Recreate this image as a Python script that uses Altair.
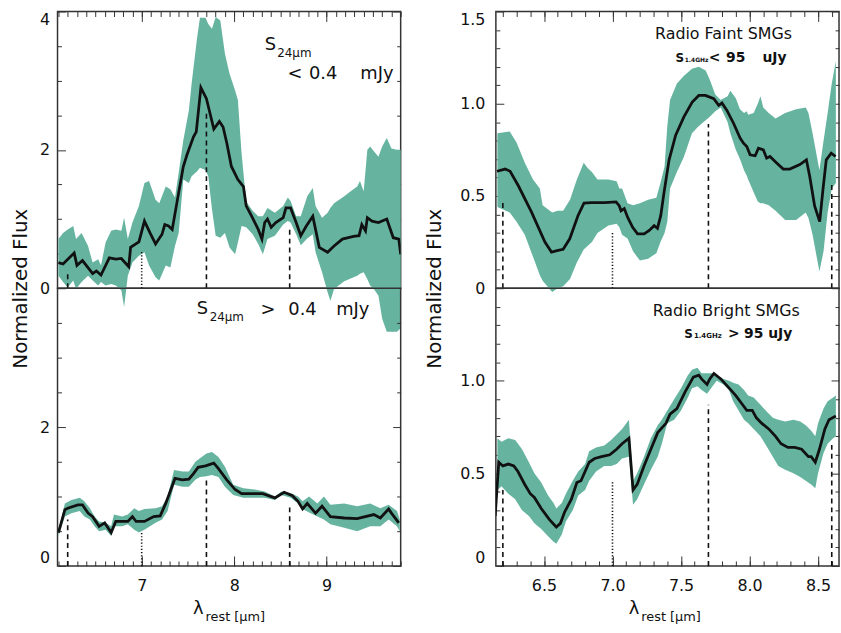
import altair as alt
import pandas as pd

FONT = "DejaVu Sans"
TEAL = "#66b4a0"
INK = "#111111"
FRAME = "#333333"

# ---------------- data ----------------
# Top-left: S24um < 0.4 mJy
TL_x = [6.10,6.15,6.27,6.30,6.36,6.47,6.51,6.56,6.65,6.72,6.78,6.86,6.88,6.97,7.03,7.09,7.15,7.22,7.25,7.29,
        7.33,7.38,7.45,7.49,7.56,7.59,7.64,7.70,7.78,7.84,7.88,7.92,7.97,8.04,8.10,8.13,8.19,8.26,8.30,8.33,
        8.36,8.40,8.45,8.53,8.56,8.61,8.67,8.72,8.78,8.85,8.88,8.92,9.01,9.08,9.17,9.29,9.35,9.38,9.42,9.44,
        9.49,9.56,9.65,9.72,9.78,9.80]
TL_y = [0.37,0.35,0.51,0.33,0.40,0.21,0.25,0.19,0.44,0.42,0.43,0.31,0.59,0.67,0.97,0.80,0.64,0.78,0.92,0.90,
        0.85,1.23,1.76,1.93,2.19,2.26,2.90,2.74,2.30,2.41,2.33,2.10,1.76,1.57,1.47,1.19,1.04,0.85,0.71,0.95,
        1.00,0.88,0.95,1.02,1.16,1.16,0.95,0.76,0.90,1.04,0.85,0.59,0.52,0.61,0.71,0.75,0.76,0.92,0.83,1.02,
        0.97,0.95,1.00,0.73,0.71,0.49]
TL_bx = [6.10,6.15,6.20,6.26,6.29,6.35,6.42,6.47,6.53,6.56,6.61,6.67,6.72,6.78,6.81,6.85,6.90,6.97,7.03,7.08,
         7.15,7.19,7.26,7.31,7.36,7.40,7.45,7.51,7.54,7.60,7.63,7.69,7.72,7.76,7.80,7.85,7.90,7.95,8.01,8.04,
         8.08,8.13,8.20,8.26,8.31,8.36,8.44,8.53,8.58,8.61,8.67,8.72,8.79,8.85,8.88,8.95,9.01,9.04,9.08,9.19,
         9.26,9.33,9.36,9.40,9.44,9.47,9.51,9.56,9.60,9.65,9.70,9.76,9.80]
TL_hi = [0.71,0.80,0.85,0.90,0.71,0.80,0.61,0.37,0.42,0.33,0.66,0.83,0.85,0.83,1.02,0.71,0.95,1.19,1.52,1.55,
         1.28,1.23,1.47,1.43,1.31,1.67,2.14,2.57,2.96,3.63,3.91,3.91,3.82,3.75,3.92,3.87,3.39,3.10,2.86,2.72,
         1.95,1.25,1.12,1.04,1.04,1.16,1.09,1.19,1.31,1.26,1.04,1.04,1.33,1.45,1.19,1.02,1.09,1.16,1.23,1.33,
         1.40,1.47,1.55,1.40,2.00,2.05,1.98,1.90,2.05,2.17,2.02,2.00,2.00]
TL_lo = [0.18,0.09,0.01,0.11,-0.01,0.09,0.18,0.11,0.04,0.09,0.04,0.06,0.04,-0.03,-0.27,0.18,0.37,0.47,0.52,0.33,
         0.16,0.11,0.33,0.30,0.61,0.80,1.57,1.52,1.62,1.69,1.74,1.71,1.62,1.14,0.76,0.73,0.80,0.59,0.49,0.66,
         0.90,0.88,0.78,0.64,0.49,0.71,0.76,0.92,0.97,0.95,0.78,0.62,0.72,0.78,0.52,0.23,-0.06,-0.18,-0.01,0.10,
         0.14,0.18,0.21,0.23,0.13,0.04,-0.01,-0.11,-0.44,-0.63,-0.63,-0.63,-0.58]

# Bottom-left: S24um > 0.4 mJy
BL_x = [6.10,6.17,6.20,6.31,6.36,6.42,6.47,6.54,6.60,6.67,6.72,6.85,6.90,6.94,7.03,7.13,7.20,7.26,7.36,7.44,
        7.51,7.56,7.61,7.69,7.78,7.83,7.92,8.01,8.08,8.15,8.31,8.44,8.54,8.63,8.69,8.74,8.79,8.88,8.95,9.04,
        9.19,9.33,9.51,9.58,9.67,9.70,9.78]
BL_y = [0.48,0.81,0.83,0.88,0.88,0.76,0.71,0.57,0.62,0.48,0.64,0.64,0.71,0.64,0.64,0.71,0.72,0.90,1.26,1.24,
        1.25,1.33,1.42,1.44,1.48,1.40,1.24,1.10,1.04,1.04,1.04,0.98,1.06,1.01,0.93,0.82,0.90,0.76,0.86,0.71,
        0.69,0.68,0.74,0.69,0.82,0.76,0.62]
BL_bx = [6.10,6.17,6.24,6.33,6.38,6.44,6.49,6.54,6.61,6.67,6.70,6.79,6.85,6.92,6.97,7.03,7.15,7.22,7.28,7.35,
         7.44,7.51,7.58,7.63,7.70,7.76,7.83,7.90,7.99,8.10,8.22,8.33,8.44,8.51,8.61,8.69,8.74,8.81,8.90,8.97,
         9.04,9.19,9.33,9.47,9.58,9.67,9.76,9.79]
BL_hi = [0.52,0.90,0.95,0.98,0.93,0.83,0.71,0.64,0.62,0.57,0.74,0.71,0.74,0.83,0.79,0.82,0.83,0.86,1.00,1.38,
         1.36,1.36,1.50,1.55,1.62,1.64,1.57,1.43,1.17,1.12,1.10,1.07,1.00,1.07,1.05,1.00,0.93,1.00,0.90,1.00,
         0.88,0.90,0.86,0.90,0.83,0.88,0.79,0.67]
BL_lo = [0.43,0.71,0.76,0.79,0.71,0.67,0.57,0.50,0.52,0.43,0.57,0.57,0.60,0.52,0.48,0.52,0.62,0.67,0.79,1.17,
         1.14,1.14,1.24,1.28,1.29,1.31,1.28,1.14,1.02,0.98,0.98,0.98,0.95,1.02,0.98,0.90,0.82,0.77,0.71,0.67,
         0.60,0.55,0.50,0.57,0.57,0.67,0.57,0.50]

# Top-right: Radio faint SMGs
TR_x = [6.157,6.217,6.253,6.314,6.410,6.507,6.555,6.603,6.640,6.688,6.748,6.792,6.845,6.942,7.026,7.050,7.062,
        7.086,7.111,7.147,7.183,7.231,7.268,7.304,7.328,7.352,7.376,7.413,7.461,7.521,7.582,7.630,7.678,7.739,
        7.775,7.799,7.835,7.884,7.932,7.956,7.980,8.004,8.041,8.065,8.101,8.125,8.149,8.198,8.246,8.294,8.367,
        8.415,8.439,8.475,8.512,8.536,8.560,8.596,8.628]
TR_y = [0.634,0.646,0.634,0.554,0.411,0.250,0.196,0.205,0.211,0.268,0.393,0.461,0.464,0.464,0.468,0.446,0.420,
        0.432,0.384,0.330,0.295,0.295,0.313,0.339,0.325,0.393,0.518,0.696,0.830,0.929,1.009,1.045,1.045,1.027,
        0.991,1.004,0.964,0.893,0.813,0.786,0.768,0.723,0.718,0.759,0.750,0.705,0.714,0.679,0.646,0.646,0.670,
        0.696,0.607,0.446,0.361,0.536,0.696,0.732,0.714]
TR_bx = [6.16,6.25,6.30,6.36,6.42,6.47,6.49,6.56,6.60,6.64,6.69,6.74,6.79,6.82,6.85,6.89,6.97,7.03,7.05,7.07,
         7.11,7.15,7.20,7.26,7.32,7.35,7.38,7.40,7.42,7.47,7.52,7.58,7.63,7.68,7.71,7.75,7.79,7.84,7.86,7.90,
         7.93,7.96,7.98,7.99,8.03,8.06,8.08,8.10,8.14,8.19,8.26,8.34,8.41,8.43,8.46,8.51,8.54,8.57,8.60,8.63]
TR_hi = [0.84,0.85,0.79,0.68,0.59,0.54,0.45,0.41,0.42,0.42,0.48,0.59,0.68,0.65,0.63,0.59,0.59,0.58,0.54,0.54,
         0.46,0.45,0.46,0.48,0.49,0.57,0.66,0.88,1.02,1.11,1.15,1.19,1.20,1.18,1.13,1.05,1.02,1.04,1.07,1.03,
         0.97,0.95,0.96,0.94,0.95,1.00,1.04,0.98,0.95,0.92,0.95,0.97,0.98,0.95,0.84,0.64,0.80,0.95,1.11,1.23]
TR_lo = [0.44,0.41,0.36,0.29,0.17,0.07,0.04,-0.02,0.00,0.01,0.05,0.14,0.21,0.23,0.25,0.30,0.34,0.35,0.33,0.29,
         0.27,0.20,0.15,0.16,0.19,0.25,0.30,0.36,0.54,0.63,0.71,0.84,0.88,0.91,0.93,0.96,0.98,0.90,0.84,0.75,
         0.70,0.64,0.61,0.59,0.52,0.47,0.46,0.46,0.45,0.42,0.37,0.37,0.41,0.38,0.29,0.09,0.20,0.41,0.54,0.57]

# Bottom-right: Radio bright SMGs
BR_x = [6.144,6.17,6.20,6.24,6.28,6.31,6.36,6.40,6.43,6.48,6.54,6.59,6.62,6.65,6.70,6.74,6.77,6.80,6.83,6.87,
        6.92,6.98,7.03,7.07,7.12,7.15,7.18,7.23,7.28,7.33,7.39,7.42,7.47,7.53,7.59,7.63,7.65,7.69,7.71,7.74,
        7.79,7.84,7.90,7.94,7.98,8.02,8.05,8.09,8.14,8.19,8.23,8.28,8.33,8.38,8.43,8.45,8.48,8.51,8.55,8.58,8.63]
BR_y = [0.27,0.56,0.54,0.55,0.54,0.51,0.44,0.39,0.37,0.31,0.25,0.21,0.23,0.29,0.36,0.45,0.46,0.51,0.56,0.58,
        0.59,0.60,0.63,0.66,0.69,0.41,0.44,0.54,0.63,0.72,0.77,0.82,0.85,0.94,1.02,1.03,1.01,0.98,1.01,1.04,
        1.01,0.97,0.92,0.88,0.84,0.84,0.80,0.77,0.74,0.70,0.66,0.64,0.64,0.63,0.59,0.59,0.56,0.63,0.74,0.79,0.81]
BR_bx = [6.16,6.19,6.24,6.29,6.34,6.39,6.43,6.48,6.53,6.57,6.59,6.63,6.66,6.71,6.75,6.80,6.83,6.88,6.94,6.99,
         7.03,7.07,7.12,7.15,7.18,7.23,7.28,7.33,7.36,7.40,7.45,7.50,7.55,7.58,7.62,7.65,7.69,7.73,7.76,7.81,
         7.85,7.88,7.92,7.96,7.99,8.03,8.08,8.13,8.17,8.21,8.26,8.32,8.37,8.41,8.45,8.48,8.50,8.54,8.57,8.61,8.63]
BR_hi = [0.69,0.67,0.69,0.68,0.63,0.56,0.50,0.45,0.38,0.34,0.31,0.34,0.39,0.46,0.51,0.55,0.62,0.64,0.65,0.68,
         0.71,0.74,0.79,0.46,0.50,0.59,0.69,0.76,0.79,0.84,0.90,0.96,1.03,1.06,1.07,1.04,1.04,1.04,1.03,1.01,
         1.00,0.99,0.98,0.95,0.92,0.91,0.87,0.83,0.80,0.79,0.78,0.79,0.78,0.76,0.73,0.70,0.77,0.85,0.89,0.91,0.92]
BR_lo = [0.41,0.43,0.39,0.36,0.30,0.27,0.23,0.20,0.16,0.13,0.12,0.17,0.24,0.30,0.38,0.41,0.46,0.51,0.54,0.54,
         0.55,0.58,0.59,0.33,0.36,0.44,0.52,0.59,0.66,0.77,0.79,0.84,0.91,0.96,0.97,0.95,0.93,0.97,1.00,0.98,
         0.95,0.89,0.84,0.79,0.77,0.74,0.70,0.64,0.59,0.54,0.52,0.50,0.48,0.46,0.44,0.42,0.50,0.61,0.66,0.69,0.70]

# feature markers: 6.2, 7.7, 8.6 (dashed) and 7.0 (dotted); heights per panel
FEAT_DASHED = [6.2, 7.7, 8.6]
FEAT_DOTTED = [7.0]
TL_dash_top = [0.25, 2.53, 0.88]; TL_dot_top = [0.53]
BL_dash_top = [0.67, 1.24, 0.88]; BL_dot_top = [0.48]
TR_dash_top = [0.48, 0.89, 0.58]; TR_dot_top = [0.31]
BR_dash_top = [0.41, 0.87, 0.66]; BR_dot_top = [0.46]

# axis ticks / labels
L_XDOM = [6.09, 9.80]; R_XDOM = [6.149, 8.653]
L_YDOM = [0, 4]; R_YDOM = [0, 1.5]
L_X_MAJOR = [7, 8, 9]
L_X_MINOR = [round(6.1 + 0.1 * i, 1) for i in range(38)]
R_X_MAJOR = [6.5, 7.0, 7.5, 8.0, 8.5]
R_X_MINOR = [round(6.2 + 0.1 * i, 1) for i in range(25)]
L_Y_MAJOR_TOP = [0, 2, 4]; L_Y_MAJOR_BOT = [0, 2]
L_Y_MINOR = [0.5, 1.0, 1.5, 2.5, 3.0, 3.5]
R_Y_MAJOR_TOP = [0, 0.5, 1.0, 1.5]; R_Y_MAJOR_BOT = [0, 0.5, 1.0]
R_Y_MINOR = [0.1, 0.2, 0.3, 0.4, 0.6, 0.7, 0.8, 0.9, 1.1, 1.2, 1.3, 1.4]

# annotation pieces (text, x, y) per panel
TL_big = [("S", 8.33, 3.52)]
TL_sub = [("24μm", 8.465, 3.40)]
TL_words = [("<", 8.657, 3.09), ("0.4", 8.961, 3.09), ("mJy", 9.543, 3.09)]
BL_big = [("S", 7.596, 3.70)]
BL_sub = [("24μm", 7.735, 3.58)]
BL_words = [(">", 8.364, 3.68), ("0.4", 8.739, 3.68), ("mJy", 9.282, 3.68)]
TR_title = [("Radio  Faint  SMGs", 7.81, 1.38)]
TR_S = [("S", 7.459, 1.25)]
TR_sub = [("1.4GHz", 7.527, 1.237)]
TR_words = [("<", 7.745, 1.25), ("95", 7.899, 1.25), ("uJy", 8.182, 1.25)]
BR_title = [("Radio  Bright  SMGs", 7.83, 1.377)]
BR_S = [("S", 7.524, 1.254)]
BR_sub = [("1.4GHz", 7.594, 1.241)]
BR_words = [(">", 7.886, 1.254), ("95", 8.03, 1.254), ("uJy", 8.224, 1.254)]
L_XTITLE_X = 7.67
R_XTITLE_X = 7.195

W = 346
H_TOP = 279
H_BOT = 280


def ax_common():
    return dict(domain=False, grid=False, tickColor=FRAME, tickWidth=1,
                labelFont=FONT, labelFontSize=16, labelColor=INK)


def x_axes(orient, majors, minors, labels, fmt=None):
    kw = ax_common()
    if fmt:
        kw["format"] = fmt
    major = alt.Axis(orient=orient, values=majors, labels=labels, tickSize=10, offset=-10,
                     labelPadding=12, title=None, **kw)
    minor = alt.Axis(orient=orient, values=minors, labels=False, tickSize=5, offset=-5,
                     title=None, **ax_common())
    return major, minor


def y_axes(majors, minors, label_expr, is_top, top_val, pad, title, title_x, title_y):
    kw = ax_common()
    extra = {}
    if is_top:
        extra["labelBaseline"] = {"condition": {"test": f"datum.value == {top_val}", "value": "top"},
                                  "value": "middle"}
    else:
        extra["labelBaseline"] = {"condition": {"test": "datum.value == 0", "value": "bottom"},
                                  "value": "middle"}
    if title:
        extra.update(title=title, titleX=title_x, titleY=title_y, titleAngle=270,
                     titleAlign="center", titleBaseline="middle", titleFont=FONT,
                     titleFontSize=20, titleFontWeight="normal", titleColor=INK)
    else:
        extra["title"] = None
    left_major = alt.Axis(orient="left", values=majors, tickSize=8, offset=-8, labelPadding=pad,
                          labelExpr=label_expr, **kw, **extra)
    left_minor = alt.Axis(orient="left", values=minors, labels=False, tickSize=4, offset=-4,
                          title=None, **ax_common())
    right_major = alt.Axis(orient="right", values=majors, labels=False, tickSize=8, offset=-8,
                           title=None, **ax_common())
    right_minor = alt.Axis(orient="right", values=minors, labels=False, tickSize=4, offset=-4,
                           title=None, **ax_common())
    return left_major, left_minor, right_major, right_minor


def text_layer(items, size, align="left", weight="normal", ypix=None):
    df = pd.DataFrame({"t": [i[0] for i in items], "x": [i[1] for i in items],
                       "y": [i[2] for i in items]})

    def build(xs, ys):
        enc = dict(x=alt.X("x:Q", scale=xs, axis=None), text="t:N")
        if ypix is not None:
            enc["y"] = alt.value(ypix)
        else:
            enc["y"] = alt.Y("y:Q", scale=ys, axis=None)
        return alt.Chart(df).mark_text(font=FONT, fontSize=size, align=align, baseline="middle",
                                       fontWeight=weight, color=INK, clip=False).encode(**enc)
    return build


def panel(H, xdom, ydom, bx, blo, bhi, lx, ly, dash_top, dot_top, xax, yax, texts):
    xs = alt.Scale(domain=xdom, nice=False, zero=False)
    ys = alt.Scale(domain=ydom, nice=False, zero=False)
    band = pd.DataFrame({"x": bx, "lo": blo, "hi": bhi})
    line = pd.DataFrame({"x": lx, "y": ly})
    dashed = pd.DataFrame({"x": FEAT_DASHED, "base": [0] * len(FEAT_DASHED), "top": dash_top})
    dotted = pd.DataFrame({"x": FEAT_DOTTED, "base": [0] * len(FEAT_DOTTED), "top": dot_top})
    xmaj, xmin = xax
    ylmaj, ylmin, yrmaj, yrmin = yax

    area = alt.Chart(band).mark_area(color=TEAL, opacity=1, clip=False).encode(
        x=alt.X("x:Q", scale=xs, axis=xmaj),
        y=alt.Y("lo:Q", scale=ys, axis=ylmaj),
        y2="hi:Q")
    r1 = alt.Chart(dashed).mark_rule(color=INK, strokeWidth=1.6, strokeDash=[5, 4]).encode(
        x=alt.X("x:Q", scale=xs, axis=None),
        y=alt.Y("base:Q", scale=ys, axis=yrmaj),
        y2="top:Q")
    r2 = alt.Chart(dotted).mark_rule(color=INK, strokeWidth=1.6, strokeDash=[1.2, 2]).encode(
        x=alt.X("x:Q", scale=xs, axis=None),
        y=alt.Y("base:Q", scale=ys, axis=yrmin),
        y2="top:Q")
    ln = alt.Chart(line).mark_line(color=INK, strokeWidth=2.8, clip=True).encode(
        x=alt.X("x:Q", scale=xs, axis=xmin),
        y=alt.Y("y:Q", scale=ys, axis=ylmin))
    tl = [t(xs, ys) for t in texts]
    return alt.layer(area, r1, r2, ln, *tl).properties(width=W, height=H).resolve_axis(
        x="independent", y="independent")


L_label = "format(datum.value, 'd')"
R_label = "datum.value == 0 ? '0' : format(datum.value, '.1f')"

TL_texts = [text_layer(TL_big, 18), text_layer(TL_sub, 12), text_layer(TL_words, 18, align="center")]
BL_texts = [text_layer(BL_big, 18), text_layer(BL_sub, 12), text_layer(BL_words, 18, align="center"),
            text_layer([("λ", L_XTITLE_X, 0)], 18, align="right", ypix=H_BOT + 43),
            text_layer([("rest [μm]", L_XTITLE_X + 0.02, 0)], 13, ypix=H_BOT + 52)]
TR_texts = [text_layer(TR_title, 16, align="center"), text_layer(TR_S, 12, weight="bold"),
            text_layer(TR_sub, 6, weight="bold"), text_layer(TR_words, 14, align="center", weight="bold")]
BR_texts = [text_layer(BR_title, 16, align="center"), text_layer(BR_S, 12, weight="bold"),
            text_layer(BR_sub, 7, weight="bold"), text_layer(BR_words, 14, align="center", weight="bold"),
            text_layer([("λ", R_XTITLE_X, 0)], 18, align="right", ypix=H_BOT + 43),
            text_layer([("rest [μm]", R_XTITLE_X + 0.015, 0)], 13, ypix=H_BOT + 52)]

TL = panel(H_TOP, L_XDOM, L_YDOM, TL_bx, TL_lo, TL_hi, TL_x, TL_y, TL_dash_top, TL_dot_top,
           x_axes("top", L_X_MAJOR, L_X_MINOR, False),
           y_axes(L_Y_MAJOR_TOP, L_Y_MINOR, L_label, True, 4, 8, "Normalized Flux", -45, H_TOP),
           TL_texts)
BL = panel(H_BOT, L_XDOM, L_YDOM, BL_bx, BL_lo, BL_hi, BL_x, BL_y, BL_dash_top, BL_dot_top,
           x_axes("bottom", L_X_MAJOR, L_X_MINOR, True, "d"),
           y_axes(L_Y_MAJOR_BOT, L_Y_MINOR, L_label, False, 0, 8, None, 0, 0),
           BL_texts)
TR = panel(H_TOP, R_XDOM, R_YDOM, TR_bx, TR_lo, TR_hi, TR_x, TR_y, TR_dash_top, TR_dot_top,
           x_axes("top", R_X_MAJOR, R_X_MINOR, False),
           y_axes(R_Y_MAJOR_TOP, R_Y_MINOR, R_label, True, 1.5, 11, "Normalized Flux", -70, H_TOP),
           TR_texts)
BR = panel(H_BOT, R_XDOM, R_YDOM, BR_bx, BR_lo, BR_hi, BR_x, BR_y, BR_dash_top, BR_dot_top,
           x_axes("bottom", R_X_MAJOR, R_X_MINOR, True, ".1f"),
           y_axes(R_Y_MAJOR_BOT, R_Y_MINOR, R_label, False, 0, 11, None, 0, 0),
           BR_texts)

chart = alt.concat(TL, TR, BL, BR, columns=2, spacing={"row": 0, "column": 96},
                   bounds="flush").properties(
    padding={"left": 10, "top": 7, "right": 0, "bottom": 0},
    background="white",
).configure_view(stroke=FRAME, strokeWidth=1.5)

chart.save("out.html", embed_options={"renderer": "svg", "actions": False})
